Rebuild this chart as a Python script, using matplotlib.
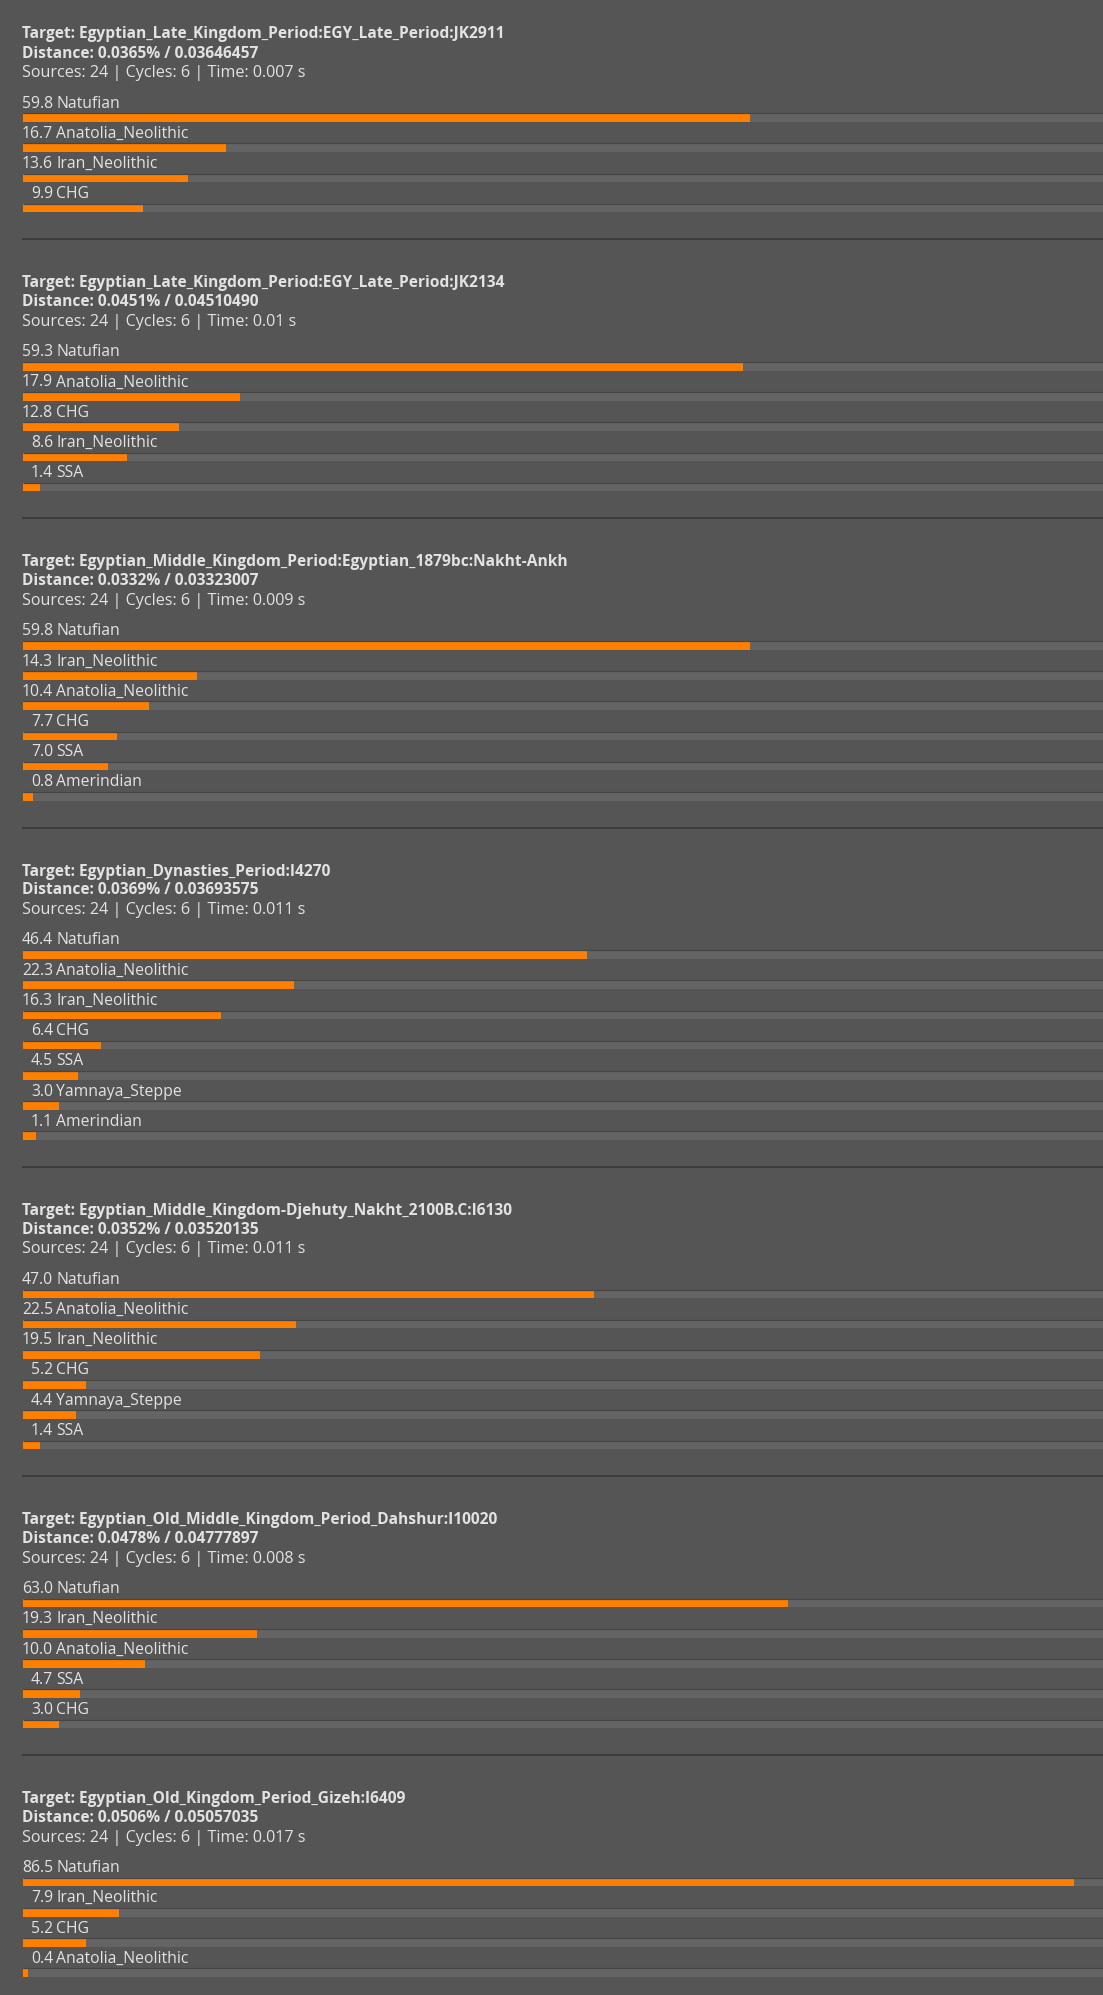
import matplotlib.pyplot as plt
import matplotlib.transforms as mtransforms

# --- data ---
targets = [
    "Egyptian_Late_Kingdom_Period:EGY_Late_Period:JK2911",
    "Egyptian_Late_Kingdom_Period:EGY_Late_Period:JK2134",
    "Egyptian_Middle_Kingdom_Period:Egyptian_1879bc:Nakht-Ankh",
    "Egyptian_Dynasties_Period:I4270",
    "Egyptian_Middle_Kingdom-Djehuty_Nakht_2100B.C:I6130",
    "Egyptian_Old_Middle_Kingdom_Period_Dahshur:I10020",
    "Egyptian_Old_Kingdom_Period_Gizeh:I6409",
]
distances_pct = ["0.0365", "0.0451", "0.0332", "0.0369", "0.0352", "0.0478", "0.0506"]
distances_raw = ["0.03646457", "0.04510490", "0.03323007", "0.03693575",
                 "0.03520135", "0.04777897", "0.05057035"]
times = ["0.007", "0.01", "0.009", "0.011", "0.011", "0.008", "0.017"]
sources = 24
cycles = 6

source_names = [
    ["Natufian", "Anatolia_Neolithic", "Iran_Neolithic", "CHG"],
    ["Natufian", "Anatolia_Neolithic", "CHG", "Iran_Neolithic", "SSA"],
    ["Natufian", "Iran_Neolithic", "Anatolia_Neolithic", "CHG", "SSA", "Amerindian"],
    ["Natufian", "Anatolia_Neolithic", "Iran_Neolithic", "CHG", "SSA",
     "Yamnaya_Steppe", "Amerindian"],
    ["Natufian", "Anatolia_Neolithic", "Iran_Neolithic", "CHG", "Yamnaya_Steppe", "SSA"],
    ["Natufian", "Iran_Neolithic", "Anatolia_Neolithic", "SSA", "CHG"],
    ["Natufian", "Iran_Neolithic", "CHG", "Anatolia_Neolithic"],
]
source_values = [
    [59.8, 16.7, 13.6, 9.9],
    [59.3, 17.9, 12.8, 8.6, 1.4],
    [59.8, 14.3, 10.4, 7.7, 7.0, 0.8],
    [46.4, 22.3, 16.3, 6.4, 4.5, 3.0, 1.1],
    [47.0, 22.5, 19.5, 5.2, 4.4, 1.4],
    [63.0, 19.3, 10.0, 4.7, 3.0],
    [86.5, 7.9, 5.2, 0.4],
]

# --- style ---
BG = "#555555"
TRACK = "#646464"
BORDER = "#464646"
SEP = "#3c3c3c"
ORANGE = "#ff8000"
TXT = "#e2e2e2"
FONT = "Open Sans"

W, H = 1103, 1995
px_per_pct = 12.15
left_px = 23

fig = plt.figure(figsize=(W / 100, H / 100), dpi=100, facecolor=BG)
ax = fig.add_axes([left_px / W, 0, 1 - left_px / W, 1])
ax.set_facecolor(BG)
ax.set_xlim(0, (W - left_px) / px_per_pct)
ax.set_ylim(H, 0)
ax.axis("off")

# x in figure pixels, y in data (pixel rows from the top)
tr = mtransforms.blended_transform_factory(fig.transFigure, ax.transData)

pitch = 30.2
tb = 38.5  # baseline of first "Target" line
for i, target in enumerate(targets):
    ax.text(22 / W, tb, f"Target: {target}", transform=tr, fontsize=11.2,
            fontweight="bold", color=TXT, family=FONT, va="baseline")
    ax.text(22 / W, tb + 19, f"Distance: {distances_pct[i]}% / {distances_raw[i]}",
            transform=tr, fontsize=11.2, fontweight="bold", color=TXT,
            family=FONT, va="baseline")
    ax.text(22 / W, tb + 38.5,
            f"Sources: {sources} | Cycles: {cycles} | Time: {times[i]} s",
            transform=tr, fontsize=11.6, color=TXT, family=FONT, va="baseline")

    for j, (name, val) in enumerate(zip(source_names[i], source_values[i])):
        base = tb + 69 + j * pitch
        ax.text(53 / W, base, f"{val:.1f}", transform=tr, fontsize=11.3,
                color=TXT, family=FONT, va="baseline", ha="right")
        ax.text(56 / W, base, name, transform=tr, fontsize=11.3,
                color=TXT, family=FONT, va="baseline", ha="left")
        top = base + 5.2
        ax.barh(top + 5, 100, height=8, left=0, color=TRACK, linewidth=0)
        ax.barh(top + 5, val, height=8, left=0, color=ORANGE, linewidth=0)
        ax.hlines(top + 0.5, 0, 100, color=BORDER, linewidth=0.9)

    last_top = tb + 69 + (len(source_values[i]) - 1) * pitch + 5.2
    sep = last_top + 36
    ax.hlines(sep, -0.1, 100, color=SEP, linewidth=1.4, clip_on=False)
    tb = sep + 48

fig.savefig("out.png", dpi=100, facecolor=BG)
